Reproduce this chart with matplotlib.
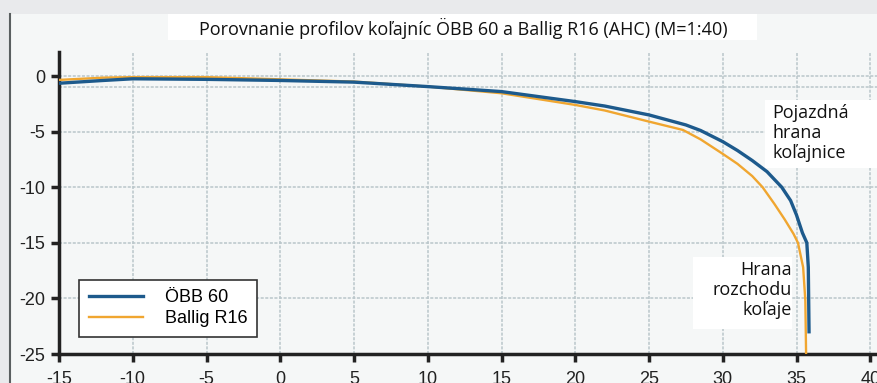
import numpy as np
import matplotlib
matplotlib.use("Agg")
import matplotlib.pyplot as plt
from matplotlib.patches import Rectangle

plt.rcParams["axes.unicode_minus"] = False

# profile data (mm, scale 1:40)
obb_x = [-15, -12, -10, -5, 0, 5, 10, 15, 20, 22, 25, 27.5, 28.5, 30, 31, 32, 33, 34,
         34.6, 35, 35.4, 35.7, 35.8, 35.85]
obb_y = [-0.65, -0.4, -0.25, -0.3, -0.4, -0.55, -0.95, -1.4, -2.3, -2.7, -3.5, -4.4, -4.9,
         -5.9, -6.7, -7.6, -8.6, -10.0, -11.2, -12.5, -14.1, -15.0, -17.2, -23.0]
ballig_x = [-15, -12, -10, -5, 0, 5, 10, 15, 20, 22, 25, 27.3, 28.5, 30, 31, 32, 32.7, 33.5,
            34.2, 34.8, 35.1, 35.45, 35.6, 35.65]
ballig_y = [-0.35, -0.15, -0.1, -0.1, -0.3, -0.5, -0.95, -1.55, -2.6, -3.1, -4.1, -4.85, -5.7,
            -7.0, -7.9, -9.0, -10.0, -11.5, -12.9, -14.2, -15.0, -17.2, -20.2, -25.0]
x_ticks = [-15, -10, -5, 0, 5, 10, 15, 20, 25, 30, 35, 40]
y_ticks = [0, -5, -10, -15, -20, -25]
labels = ["ÖBB 60", "Ballig R16"]
title = "Porovnanie profilov koľajníc ÖBB 60 a Ballig R16 (AHC) (M=1:40)"

W, H = 877, 383
fig = plt.figure(figsize=(W / 100, H / 100), dpi=100, facecolor="#e9eaec")

# scanned page panel (behind the axes)
fig.patches.append(Rectangle((11 / W, 0), 1, 1 - 14 / H, transform=fig.transFigure,
                             facecolor="#f5f7f7", edgecolor="none", zorder=-2))
fig.add_artist(plt.Line2D([10 / W, 10 / W], [0, 1 - 14 / H], transform=fig.transFigure,
                          color="#5a5f60", lw=1.5))
# title box
fig.patches.append(Rectangle((168 / W, 1 - 40 / H), (757 - 168) / W, 26 / H,
                             transform=fig.transFigure, facecolor="white",
                             edgecolor="none", zorder=-1))
fig.text(463 / W, 1 - 28 / H, title, ha="center", va="center", fontsize=13,
         family="Open Sans", color="#111")

ax = fig.add_axes([59 / W, (H - 354) / H, (W - 59) / W, (354 - 52) / H])
ax.set_facecolor("none")
ax.set_xlim(-15, -15 + 818 / 14.75)
ax.set_ylim(-25, 2.16)

ax.set_xticks(x_ticks)
ax.set_yticks(y_ticks)
ax.grid(True, color="#b9c6ca", lw=1.1, linestyle=(0, (2, 1)))
ax.axhline(-1, color="#b9c6ca", lw=1.1, linestyle=(0, (2, 1)), zorder=1)
ax.set_axisbelow(True)

for s in ["top", "right"]:
    ax.spines[s].set_visible(False)
for s in ["left", "bottom"]:
    ax.spines[s].set_linewidth(2.5)
    ax.spines[s].set_color("#222")
ax.tick_params(axis="both", width=2.5, length=6, color="#222", labelsize=13,
               labelcolor="#222")
ax.tick_params(axis="x", pad=6)
ax.tick_params(axis="y", pad=4)
for t in ax.get_xticklabels() + ax.get_yticklabels():
    t.set_family("Liberation Sans")

ax.plot(ballig_x, ballig_y, color="#f0a630", lw=1.7, label=labels[1], zorder=3)
ax.plot(obb_x, obb_y, color="#1d5a8c", lw=2.4, label=labels[0], zorder=4)

h, l = ax.get_legend_handles_labels()
leg = ax.legend(h[::-1], l[::-1], loc="lower left", bbox_to_anchor=(20 / 818, 17 / 302),
                borderaxespad=0, fancybox=False, framealpha=1, edgecolor="#333",
                prop={"family": "Liberation Sans", "size": 13}, handlelength=3.0,
                handletextpad=1.2, labelspacing=0.2, borderpad=0.55)
leg.get_frame().set_linewidth(1.2)

# white label boxes
ax.add_patch(Rectangle((765, H - 168), W - 765, 68, transform=None,
                       facecolor="white", edgecolor="none", zorder=5))
ax.add_patch(Rectangle((693, H - 329), 99, 72, transform=None,
                       facecolor="white", edgecolor="none", zorder=5))
ax.text(772, H - 104, "Pojazdná\nhrana\nkoľajnice", transform=None, fontsize=13,
        family="Open Sans", ha="left", va="top", color="#111", linespacing=1.13, zorder=6)
ax.text(792, H - 261, "Hrana\nrozchodu\nkoľaje", transform=None, fontsize=13,
        family="Open Sans", ha="right", va="top", color="#111", linespacing=1.13, zorder=6)

fig.savefig("out.png", dpi=100, facecolor=fig.get_facecolor())
